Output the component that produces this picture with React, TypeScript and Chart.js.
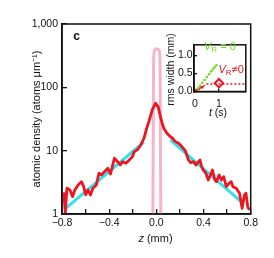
import React, { useEffect, useRef } from 'react';
import { Chart, registerables } from 'chart.js';
Chart.register(...registerables);

const FONT = '"Liberation Sans", Arial, Helvetica, sans-serif';
const INK = '#111111';
const RED = '#ec1520';
const CYAN = '#30e2ee';
const PINK = '#f6b4c9';
const GREEN = '#6ade1c';

// ---- main panel data ----
const redZ = [
  -0.785, -0.772, -0.758, -0.733, -0.71, -0.691, -0.663, -0.635, -0.616, -0.599,
  -0.58, -0.559, -0.538, -0.509, -0.487, -0.467, -0.44, -0.412, -0.389, -0.356,
  -0.328, -0.306, -0.286, -0.258, -0.23, -0.203, -0.188, -0.161, -0.132, -0.105,
  -0.082, -0.063, -0.035, -0.007, 0.015, 0.035, 0.049, 0.063, 0.09, 0.119,
  0.138, 0.161, 0.188, 0.216, 0.245, 0.258, 0.272, 0.291, 0.314, 0.337,
  0.356, 0.37, 0.384, 0.398, 0.42, 0.44, 0.459, 0.476, 0.496, 0.509,
  0.532, 0.551, 0.571, 0.593, 0.616, 0.635, 0.649, 0.677, 0.705, 0.727,
  0.747, 0.76, 0.775, 0.789,
];
const redN = [
  2.2, 1.05, 2.55, 2.39, 1.88, 2.39, 2.87, 3.24, 2.7, 2.0,
  2.39, 2.0, 2.55, 2.87, 4.4, 4.13, 4.66, 5.27, 4.28, 7.6,
  6.7, 5.94, 6.7, 6.32, 7.13, 8.04, 9.6, 10.3, 12.3, 15.7,
  22.6, 28.7, 44, 56, 49.5, 34.4, 27.1, 22.6, 18.8, 16.6,
  15.7, 13.9, 13.1, 11.6, 10.0, 8.5, 7.13, 6.46, 6.7, 5.94,
  6.7, 7.13, 5.58, 4.95, 4.4, 3.44, 4.13, 4.95, 3.44, 3.24,
  4.13, 3.44, 3.88, 2.7, 3.05, 3.24, 2.7, 2.55, 2.12, 1.23,
  2.0, 2.12, 1.3, 1.16,
];
const cyanLeftZ = [-0.766, -0.105];
const cyanLeftN = [1.24, 13.7];
const cyanRightZ = [0.119, 0.74];
const cyanRightN = [14.8, 1.45];
const pinkZ = [
  -0.0305, -0.029, -0.0275, -0.026, -0.025, -0.024, -0.0225, -0.0195, -0.014, -0.006,
  0.004, 0.014, 0.022, 0.0275, 0.0305, 0.032, 0.033, 0.034, 0.0355, 0.037, 0.0385,
];
const pinkN = [
  0.7, 1.5, 6, 25, 80, 180, 290, 350, 385, 400,
  405, 400, 385, 350, 290, 180, 80, 25, 6, 1.5, 0.7,
];
const xTicks = [-0.8, -0.6, -0.4, -0.2, 0, 0.2, 0.4, 0.6, 0.8];
const xTickLabels = ['−0.8', '', '−0.4', '', '0.0', '', '0.4', '', '0.8'];
const yTicks = [1, 10, 100, 1000];
const yTickLabels = ['1', '10', '100', '1,000'];

// ---- inset data ----
const greenT = [0.1, 0.2, 0.3, 0.4, 0.5, 0.6, 0.7, 0.8, 0.9];
const greenW = [0.07, 0.15, 0.24, 0.32, 0.41, 0.49, 0.58, 0.66, 0.74];
const redSqT = [0.05, 0.15, 0.3];
const redSqW = [0.03, 0.07, 0.12];
const redGuideT = [0.05, 0.5, 2.3];
const redGuideW = [0.03, 0.21, 0.21];
const diamondT = [1.0];
const diamondW = [0.23];
const insetXTicks = [0, 1];
const insetXLabels = ['0', '1'];
const insetYTicks = [0, 0.5, 1.0];
const insetYLabels = ['0.0', '0.5', '1.0'];

const pts = (xs: number[], ys: number[]) => xs.map((x, i) => ({ x, y: ys[i] }));

type Part = { text: string; font: string; dy?: number };
function drawRich(ctx: CanvasRenderingContext2D, parts: Part[], x: number, y: number, align: 'left' | 'center', color: string) {
  ctx.save();
  ctx.fillStyle = color;
  ctx.textBaseline = 'middle';
  ctx.textAlign = 'left';
  const widths = parts.map((p) => {
    ctx.font = p.font;
    return ctx.measureText(p.text).width;
  });
  const total = widths.reduce((a, b) => a + b, 0);
  let cx = align === 'center' ? x - total / 2 : x;
  parts.forEach((p, i) => {
    ctx.font = p.font;
    ctx.fillText(p.text, cx, y + (p.dy || 0));
    cx += widths[i];
  });
  ctx.restore();
}

const framePlugin = (lw: number) => ({
  id: 'frame',
  afterDatasetsDraw(chart: any) {
    const { ctx, chartArea: a } = chart;
    ctx.save();
    ctx.strokeStyle = INK;
    ctx.lineWidth = lw;
    ctx.strokeRect(a.left, a.top, a.right - a.left, a.bottom - a.top);
    ctx.restore();
  },
});

export default function App() {
  const mainRef = useRef<HTMLCanvasElement>(null);
  const insetRef = useRef<HTMLCanvasElement>(null);

  useEffect(() => {
    const mainTexts = {
      id: 'mainTexts',
      afterDraw(chart: any) {
        const ctx = chart.ctx as CanvasRenderingContext2D;
        drawRich(ctx, [{ text: 'c', font: `bold 12px ${FONT}` }], 68.5, 29, 'center', INK);
        drawRich(
          ctx,
          [
            { text: 'z', font: `italic 11px ${FONT}` },
            { text: ' (mm)', font: `11px ${FONT}` },
          ],
          147.5,
          231,
          'center',
          INK
        );
      },
    };

    const main = new Chart(mainRef.current!, {
      type: 'line',
      data: {
        datasets: [
          {
            data: pts(redZ, redN),
            borderColor: RED,
            borderWidth: 2.8,
            pointRadius: 0,
            borderJoinStyle: 'round',
            order: 0,
          },
          { data: pts(cyanLeftZ, cyanLeftN), borderColor: CYAN, borderWidth: 3, pointRadius: 0, order: 1 },
          { data: pts(cyanRightZ, cyanRightN), borderColor: CYAN, borderWidth: 3, pointRadius: 0, order: 1 },
          {
            data: pts(pinkZ, pinkN),
            borderColor: PINK,
            borderWidth: 3,
            pointRadius: 0,
            cubicInterpolationMode: 'monotone',
            order: 2,
          },
        ],
      },
      options: {
        responsive: false,
        animation: false,
        layout: { padding: { top: 16, right: 13, left: 0, bottom: 0 } },
        plugins: { legend: { display: false }, tooltip: { enabled: false } },
        scales: {
          x: {
            type: 'linear',
            min: -0.8,
            max: 0.8,
            afterBuildTicks: (s: any) => {
              s.ticks = xTicks.map((v) => ({ value: v }));
            },
            afterFit: (s: any) => {
              s.height = 36;
            },
            ticks: {
              autoSkip: false,
              maxRotation: 0,
              padding: 8,
              color: INK,
              font: { family: FONT, size: 10.5 },
              callback: (_v: any, i: number) => xTickLabels[i],
            },
            grid: { drawOnChartArea: false, drawTicks: true, tickLength: -5, color: INK, lineWidth: 1.3 },
            border: { display: true, color: INK, width: 1.5 },
          },
          y: {
            type: 'logarithmic',
            min: 1,
            max: 1000,
            afterBuildTicks: (s: any) => {
              s.ticks = yTicks.map((v) => ({ value: v }));
            },
            afterFit: (s: any) => {
              s.width = 54;
            },
            ticks: {
              autoSkip: false,
              padding: 9,
              color: INK,
              font: { family: FONT, size: 10.5 },
              callback: (_v: any, i: number) => yTickLabels[i],
            },
            title: {
              display: true,
              text: 'atomic density (atoms μm⁻¹)',
              color: INK,
              font: { family: FONT, size: 11 },
              padding: { top: 22.4, bottom: 0 },
            },
            grid: { drawOnChartArea: false, drawTicks: true, tickLength: -5, color: INK, lineWidth: 1.3 },
            border: { display: true, color: INK, width: 1.5 },
          },
        },
      },
      plugins: [framePlugin(1.5), mainTexts],
    } as any);

    const insetTexts = {
      id: 'insetTexts',
      afterDraw(chart: any) {
        const ctx = chart.ctx as CanvasRenderingContext2D;
        ctx.save();
        ctx.translate(11.5, 35.5);
        ctx.rotate(-Math.PI / 2);
        drawRich(ctx, [{ text: 'rms width (mm)', font: `10.5px ${FONT}` }], 0, 0, 'center', INK);
        ctx.restore();
        drawRich(
          ctx,
          [
            { text: 't', font: `italic 10.5px ${FONT}` },
            { text: ' (s)', font: `10.5px ${FONT}` },
          ],
          58,
          79.5,
          'center',
          INK
        );
        drawRich(
          ctx,
          [
            { text: 'V', font: `italic 11px ${FONT}` },
            { text: 'R', font: `8px ${FONT}`, dy: 3 },
            { text: ' = 0', font: `11px ${FONT}` },
          ],
          44,
          12.5,
          'left',
          GREEN
        );
        drawRich(
          ctx,
          [
            { text: 'V', font: `italic 11px ${FONT}` },
            { text: 'R', font: `8px ${FONT}`, dy: 3 },
            { text: '≠0', font: `11px ${FONT}` },
          ],
          58.5,
          36,
          'left',
          RED
        );
      },
    };

    const inset = new Chart(insetRef.current!, {
      type: 'line',
      data: {
        datasets: [
          {
            data: pts(greenT, greenW),
            borderColor: GREEN,
            borderWidth: 2,
            borderDash: [2, 1.5],
            pointStyle: 'rect',
            pointRadius: 1.4,
            pointBackgroundColor: GREEN,
            pointBorderWidth: 0,
          },
          {
            data: pts(redGuideT, redGuideW),
            borderColor: RED,
            borderWidth: 1.5,
            borderDash: [2, 2],
            pointRadius: 0,
          },
          {
            data: pts(redSqT, redSqW),
            showLine: false,
            pointStyle: 'rect',
            pointRadius: 1.8,
            pointBackgroundColor: RED,
            pointBorderWidth: 0,
          },
          {
            data: pts(diamondT, diamondW),
            showLine: false,
            pointStyle: 'rectRot',
            pointRadius: 4.2,
            pointBorderWidth: 2,
            pointBorderColor: RED,
            pointBackgroundColor: '#ffffff',
          },
        ],
      },
      options: {
        responsive: false,
        animation: false,
        layout: { padding: { top: 7, right: 5, left: 0, bottom: 0 } },
        plugins: { legend: { display: false }, tooltip: { enabled: false } },
        scales: {
          x: {
            type: 'linear',
            min: -0.04,
            max: 2.12,
            afterBuildTicks: (s: any) => {
              s.ticks = insetXTicks.map((v) => ({ value: v }));
            },
            afterFit: (s: any) => {
              s.height = 30.5;
            },
            ticks: {
              autoSkip: false,
              maxRotation: 0,
              padding: 9,
              color: INK,
              font: { family: FONT, size: 10.5 },
              callback: (_v: any, i: number) => insetXLabels[i],
            },
            grid: { drawOnChartArea: false, drawTicks: true, tickLength: -3, color: INK, lineWidth: 1.3 },
            border: { display: true, color: INK, width: 1.5 },
          },
          y: {
            type: 'linear',
            min: 0,
            max: 1.3,
            afterBuildTicks: (s: any) => {
              s.ticks = insetYTicks.map((v) => ({ value: v }));
            },
            afterFit: (s: any) => {
              s.width = 34;
            },
            ticks: {
              autoSkip: false,
              padding: 4.5,
              color: INK,
              font: { family: FONT, size: 10.5 },
              callback: (_v: any, i: number) => insetYLabels[i],
            },
            grid: { drawOnChartArea: false, drawTicks: true, tickLength: -3, color: INK, lineWidth: 1.3 },
            border: { display: true, color: INK, width: 1.5 },
          },
        },
      },
      plugins: [framePlugin(1.5), insetTexts],
    } as any);

    return () => {
      main.destroy();
      inset.destroy();
    };
  }, []);

  return (
    <div style={{ position: 'relative', width: 258, height: 242 }}>
      <canvas ref={mainRef} width={258} height={242} style={{ position: 'absolute', left: 0, top: 0, display: 'block' }} />
      <canvas ref={insetRef} width={92} height={88} style={{ position: 'absolute', left: 152, top: 26, display: 'block' }} />
    </div>
  );
}
